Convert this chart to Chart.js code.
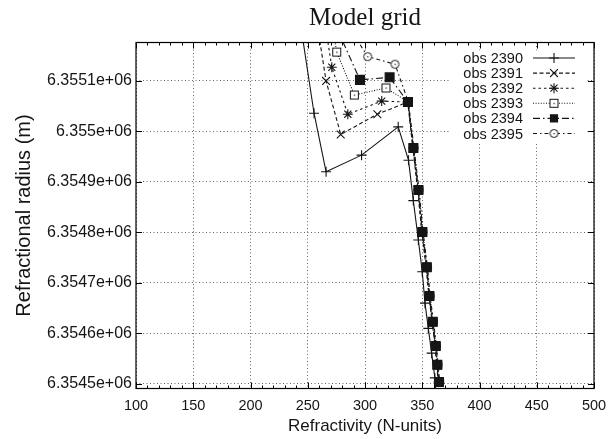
<!DOCTYPE html>
<html><head><meta charset="utf-8">
<script src="https://cdn.jsdelivr.net/npm/chart.js@4.4.0/dist/chart.umd.min.js"></script>
<style>html,body{margin:0;padding:0;background:#fff;}#wrap{width:616px;height:439px;}</style>
</head><body><div id="wrap"><canvas id="c" width="616" height="439"></canvas></div>
<script>
// ---- data ----
const seriesNames = ['obs 2390','obs 2391','obs 2392','obs 2393','obs 2394','obs 2395'];
const xTickValues = [100,150,200,250,300,350,400,450,500];
const yTickValues = [6354500,6354600,6354700,6354800,6354900,6355000,6355100];

const refr2390 = [242.5,255.5,266.0,297.0,329.0,338.0,342.2,346.6,350.0,352.4,355.3,358.2,361.0,362.5];
const rad2390  = [6355230,6355036,6354920,6354953,6355009,6354943,6354863,6354785,6354722,6354660,6354610,6354561,6354512,6354470];

const refr2391 = [257.0,266.0,278.8,310.8,337.3,341.8,346.0,349.6,353.4,355.8,358.6,361.2,362.6,364.0];
const rad2391  = [6355230,6355100,6354994,6355034,6355058,6354967,6354884,6354801,6354731,6354674,6354623,6354575,6354538,6354504];

const refr2392 = [264.0,271.0,285.0,314.6,337.6,342.0,346.3,349.8,353.6,356.0,358.8,361.4,362.8,364.3];
const rad2392  = [6355230,6355127,6355034,6355060,6355058,6354967,6354884,6354801,6354731,6354674,6354623,6354575,6354538,6354504];

const refr2393 = [270.0,275.3,290.7,318.3,337.8,342.5,347.0,350.4,354.3,356.6,359.5,362.1,363.5,365.0];
const rad2393  = [6355230,6355157,6355072,6355086,6355058,6354967,6354884,6354801,6354731,6354674,6354623,6354575,6354538,6354504];

const refr2394 = [270.3,295.6,321.5,337.5,342.2,346.6,350.0,353.9,356.2,359.1,361.7,363.1,364.6];
const rad2394  = [6355230,6355102,6355107,6355058,6354967,6354884,6354801,6354731,6354674,6354623,6354575,6354538,6354504];

const refr2395 = [285.0,302.4,326.2,337.9,342.8,347.2,350.7,354.6,356.9,359.8,362.4,363.8,365.3];
const rad2395  = [6355210,6355148,6355133,6355058,6354967,6354884,6354801,6354731,6354674,6354623,6354575,6354538,6354504];

// ---- styling ----
const INK = '#151515';
function markerCanvas(kind){
  const c = document.createElement('canvas'); c.width = 11; c.height = 11;
  const g = c.getContext('2d');
  g.fillStyle = '#fff'; g.strokeStyle = INK; g.lineWidth = 1;
  if (kind === 'sq') { g.fillRect(1.5,1.5,8,8); g.strokeRect(1.5,1.5,8,8); }
  else { g.beginPath(); g.arc(5.5,5.5,4,0,Math.PI*2); g.fill(); g.stroke(); }
  g.fillStyle = INK; g.fillRect(5,5,1.2,1.2);
  return c;
}
const sqDot = markerCanvas('sq');
const ciDot = markerCanvas('ci');

const styles = [
  {dash: [], pointStyle: 'cross', radius: 5, bg: INK, order: 1},
  {dash: [4,2.5], pointStyle: 'crossRot', radius: 5.5, bg: INK, order: 2},
  {dash: [2.5,3], pointStyle: 'star', radius: 5, bg: INK, order: 3},
  {dash: [1,1.6], pointStyle: sqDot, radius: 5, bg: '#fff', order: 4},
  {dash: [7,3,1.5,3], pointStyle: 'rect', radius: 6.3, bg: INK, order: 0},
  {dash: [4,3,1.5,3], pointStyle: ciDot, radius: 5, bg: '#fff', order: 5}
];
const xs = [refr2390,refr2391,refr2392,refr2393,refr2394,refr2395];
const ys = [rad2390,rad2391,rad2392,rad2393,rad2394,rad2395];

const datasets = seriesNames.map((name,i)=>({
  label: name,
  data: xs[i].map((x,j)=>({x:x, y:ys[i][j]})),
  showLine: true,
  order: styles[i].order,
  borderColor: INK,
  borderWidth: 1.1,
  borderDash: styles[i].dash,
  pointStyle: styles[i].pointStyle,
  pointRadius: styles[i].radius,
  pointBorderWidth: 1.1,
  pointBorderColor: INK,
  pointBackgroundColor: styles[i].bg,
  tension: 0
}));

const gnuplotPlugin = {
  id: 'gnuplotFrame',
  beforeDatasetsDraw(chart){
    const ctx = chart.ctx, a = chart.chartArea;
    ctx.save(); ctx.fillStyle = '#fff';
    ctx.fillRect(a.right - 144, a.top + 8, 135, 92);
    ctx.restore();
  },
  afterDraw(chart){
    const ctx = chart.ctx, a = chart.chartArea;
    const xsc = chart.scales.x, ysc = chart.scales.y;
    ctx.save();
    ctx.strokeStyle = '#000'; ctx.lineWidth = 1.2; ctx.setLineDash([]);
    ctx.strokeRect(a.left, a.top, a.right - a.left, a.bottom - a.top);
    ctx.lineWidth = 1;
    ctx.beginPath();
    for (let v = 100; v <= 500; v += 10) {
      const px = Math.round(xsc.getPixelForValue(v)) + 0.5;
      const len = (v % 50 === 0) ? 6 : 3;
      ctx.moveTo(px, a.bottom); ctx.lineTo(px, a.bottom - len);
      ctx.moveTo(px, a.top); ctx.lineTo(px, a.top + len);
    }
    yTickValues.forEach(v => {
      const py = Math.round(ysc.getPixelForValue(v)) + 0.5;
      ctx.moveTo(a.left, py); ctx.lineTo(a.left + 6, py);
      ctx.moveTo(a.right, py); ctx.lineTo(a.right - 6, py);
    });
    ctx.stroke();
    // key
    const textRight = a.right - 71, s0 = a.right - 61, s1 = a.right - 19, sm = (s0 + s1) / 2;
    ctx.font = '14.5px "Liberation Sans", Arial, sans-serif';
    ctx.textAlign = 'right'; ctx.textBaseline = 'middle'; ctx.fillStyle = INK;
    seriesNames.forEach((name, i) => {
      const y = a.top + 15.5 + i * 15.1;
      ctx.fillText(name, textRight, y + 1);
      ctx.strokeStyle = INK; ctx.lineWidth = 1.1; ctx.setLineDash(styles[i].dash);
      ctx.beginPath(); ctx.moveTo(s0, y); ctx.lineTo(s1, y); ctx.stroke();
      ctx.setLineDash([]);
      ctx.fillStyle = styles[i].bg; ctx.strokeStyle = INK;
      const r = i === 4 ? 5 : styles[i].radius;
      Chart.helpers.drawPoint(ctx, {pointStyle: styles[i].pointStyle, radius: r, rotation: 0, borderWidth: 1.1}, sm, y);
      ctx.fillStyle = INK;
    });
    ctx.restore();
  }
};

new Chart(document.getElementById('c'), {
  type: 'scatter',
  data: {datasets},
  plugins: [gnuplotPlugin],
  options: {
    responsive: false,
    animation: false,
    devicePixelRatio: 1,
    layout: {padding: {left: 0, right: 22, top: 0, bottom: 0}},
    plugins: {
      legend: {display: false},
      tooltip: {enabled: false},
      title: {
        display: true, text: 'Model grid', fullSize: false, color: INK,
        font: {family: '"Liberation Serif", "Times New Roman", serif', size: 25, weight: 'normal'},
        padding: {top: 3, bottom: 9.5}
      }
    },
    scales: {
      x: {
        type: 'linear', min: 100, max: 500,
        afterBuildTicks: s => { s.ticks = xTickValues.map(v => ({value: v})); },
        afterFit: s => { s.height = 50.5; },
        grid: {color: '#666', lineWidth: 1, drawTicks: false},
        border: {display: false, dash: [1,2.5]},
        ticks: {color: INK, padding: 9, font: {family: '"Liberation Sans", Arial, sans-serif', size: 14.5}, callback: v => String(v)},
        title: {display: true, text: 'Refractivity (N-units)', color: INK, padding: {top: 0, bottom: 2},
                font: {family: '"Liberation Sans", Arial, sans-serif', size: 17}}
      },
      y: {
        type: 'linear', min: 6354491, max: 6355176,
        afterBuildTicks: s => { s.ticks = yTickValues.map(v => ({value: v})); },
        afterFit: s => { s.width = 136; },
        grid: {color: '#666', lineWidth: 1, drawTicks: false},
        border: {display: false, dash: [1,2.5]},
        ticks: {color: INK, padding: 4, font: {family: '"Liberation Sans", Arial, sans-serif', size: 16},
                callback: v => (v / 1e6).toFixed(4).replace(/0+$/, '') + 'e+06'},
        title: {display: true, text: 'Refractional radius (m)', color: INK, padding: {top: 12, bottom: 0},
                font: {family: '"Liberation Sans", Arial, sans-serif', size: 20}}
      }
    }
  }
});
</script></body></html>
